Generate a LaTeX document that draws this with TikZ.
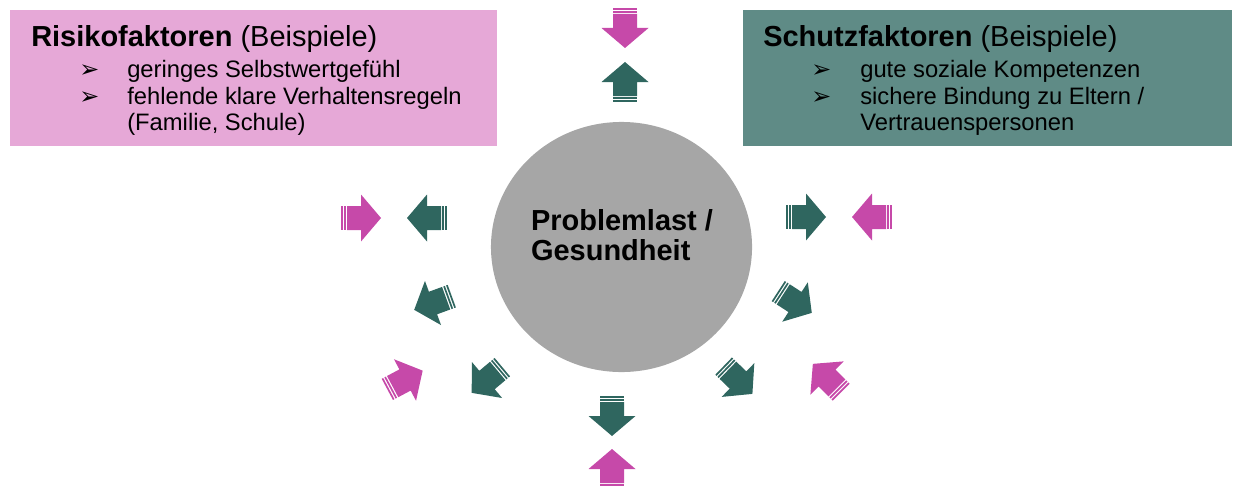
\documentclass[tikz,border=0pt]{standalone}
\usepackage{fontspec}
\setmainfont{Liberation Sans}
\newfontfamily\bulletfont{DejaVu Sans}
\usepackage{tikz}
\usetikzlibrary{shapes.geometric,positioning}

\definecolor{riskpink}{HTML}{E6A8D7}
\definecolor{protectteal}{HTML}{5F8B86}
\definecolor{arrowpink}{HTML}{C649A9}
\definecolor{arrowteal}{HTML}{2F665F}
\definecolor{coregray}{HTML}{A6A6A6}

\newcommand{\bul}{{\bulletfont\fontsize{17}{17}\selectfont ➢}}

\tikzset{
  striped arrow/.pic={
    \fill (-20,-12) rectangle (-18.3,12);
    \fill (-17,-12) rectangle (-15.3,12);
    \fill (-14,-12) -- (0,-12) -- (0,-23.5) -- (20,0) -- (0,23.5) -- (0,12) -- (-14,12) -- cycle;
  }
}

\begin{document}
\begin{tikzpicture}[x=0.025cm,y=-0.025cm,
                    factor box/.style={rectangle,draw=none,anchor=north west,minimum height=3.4cm},
                    title text/.style={anchor=base west,inner sep=0pt,font=\fontsize{20.6}{23}\selectfont},
                    item text/.style={anchor=base west,inner sep=0pt,font=\fontsize{16.9}{19.2}\selectfont},
                    item mark/.style={anchor=base west,inner sep=0pt}]
  \useasboundingbox (0,0) rectangle (1240,486);

  \node[factor box,fill=riskpink,minimum width=12.175cm]    (risk)    at (10,10)  {};
  \node[factor box,fill=protectteal,minimum width=12.225cm] (protect) at (743,10) {};

  \node[title text] (risktitle) at (31,47) {\textbf{Risikofaktoren} (Beispiele)};
  \node[item mark]  (riskm1)    at (79,78)  {\bul};
  \node[item mark]  (riskm2)    at (79,104) {\bul};
  \node[item text]  (riska)     at (127,78)  {geringes Selbstwertgefühl};
  \node[item text]  (riskb)     at (127,104) {fehlende klare Verhaltensregeln};
  \node[item text]  (riskc)     at (127,130) {(Familie, Schule)};

  \node[title text] (protecttitle) at (763,47) {\textbf{Schutzfaktoren} (Beispiele)};
  \node[item mark]  (protectm1)    at (811,78)  {\bul};
  \node[item mark]  (protectm2)    at (811,104) {\bul};
  \node[item text]  (protecta)     at (860,78)  {gute soziale Kompetenzen};
  \node[item text]  (protectb)     at (860,104) {sichere Bindung zu Eltern /};
  \node[item text]  (protectc)     at (860,130) {Vertrauenspersonen};

  \node[ellipse,fill=coregray,minimum width=6.525cm,minimum height=6.25cm] (core) at (621.5,247) {};
  \node[align=left,font=\bfseries\fontsize{20.6}{21.5}\selectfont] (corelabel) at (622,235)
       {Problemlast /\\Gesundheit};

  \pic[fill=arrowpink,rotate=-90] at (625,28)  {striped arrow};
  \pic[fill=arrowteal,rotate=90]  at (625,82)  {striped arrow};
  \pic[fill=arrowpink]            at (361,218) {striped arrow};
  \pic[fill=arrowteal,rotate=180] at (427,218) {striped arrow};
  \pic[fill=arrowteal]            at (806,217) {striped arrow};
  \pic[fill=arrowpink,rotate=180] at (872,217) {striped arrow};
  \pic[fill=arrowteal,rotate=200] at (433,303) {striped arrow};
  \pic[fill=arrowteal,rotate=-33] at (795,302) {striped arrow};
  \pic[fill=arrowpink,rotate=28]  at (405,380) {striped arrow};
  \pic[fill=arrowteal,rotate=220] at (487,380) {striped arrow};
  \pic[fill=arrowteal,rotate=-44] at (738,380) {striped arrow};
  \pic[fill=arrowpink,rotate=135] at (827,378) {striped arrow};
  \pic[fill=arrowteal,rotate=-90] at (612,416) {striped arrow};
  \pic[fill=arrowpink,rotate=90]  at (612,469) {striped arrow};

\end{tikzpicture}
\end{document}
